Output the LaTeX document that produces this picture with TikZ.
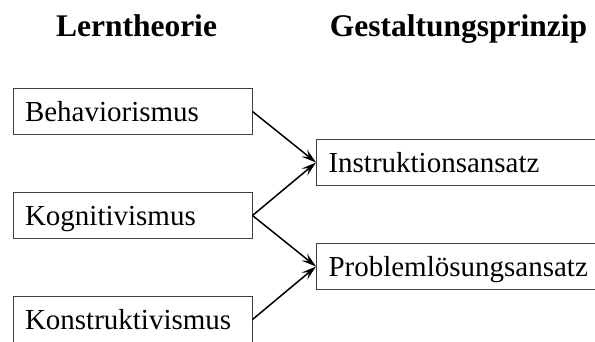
\documentclass[tikz,border=0pt]{standalone}
\usepackage{fontspec}
\setmainfont{Liberation Serif}
\usetikzlibrary{arrows.meta}
\begin{document}
\begin{tikzpicture}[x=1pt,y=-1pt,
  heading/.style={font=\fontsize{31.5}{36}\selectfont\bfseries, inner sep=0pt, anchor=base},
  theorybox/.style={draw=black!75, line width=1pt, fill=white,
    font=\fontsize{29}{34}\selectfont, anchor=north west,
    inner xsep=12pt, inner ysep=0pt, text height=19pt, text depth=0pt,
    minimum height=46pt, align=left},
  link/.style={line width=1.5pt, -{Stealth[length=15pt,width=9pt,inset=6pt]}}]
  \useasboundingbox (0,0) rectangle (595,341);
  \clip (0,0) rectangle (595,341);

  % column headings
  \node[heading] (hLeft)  at (136.5,36) {Lerntheorie};
  \node[heading] (hRight) at (458.5,36) {Gestaltungsprinzip};

  % learning theories
  \node[theorybox, text width=215pt] (beh) at (12.5,88)  {Behaviorismus};
  \node[theorybox, text width=215pt] (kog) at (12.5,192) {Kognitivismus};
  \node[theorybox, text width=215pt] (kon) at (12.5,296) {Konstruktivismus};

  % design principles
  \node[theorybox, text width=270pt] (ins) at (316,139) {Instruktionsansatz};
  \node[theorybox, text width=270pt] (pro) at (316,243) {Problemlösungsansatz};

  % connections
  \draw[link] (beh.east) -- (ins.west);
  \draw[link] (kog.east) -- (ins.west);
  \draw[link] (kog.east) -- (pro.west);
  \draw[link] (kon.east) -- (pro.west);
\end{tikzpicture}
\end{document}
